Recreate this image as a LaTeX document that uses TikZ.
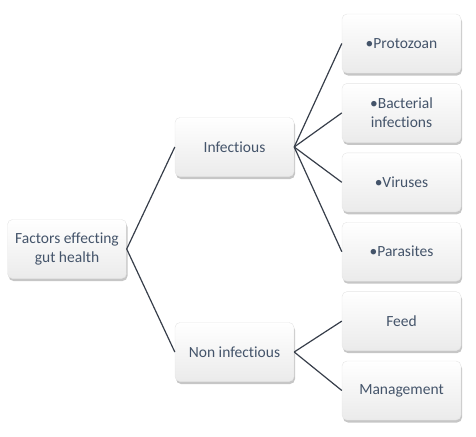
\documentclass[tikz,border=0pt]{standalone}
\usepackage{fontspec}
\setmainfont{Carlito}[Ligatures=NoCommon]
\usepackage{tikz}
\usetikzlibrary{positioning,shadows}
\definecolor{boxtext}{RGB}{68,84,106}
\definecolor{linkgray}{RGB}{55,62,74}
\tikzset{
  gutbox/.style={rounded corners=5pt, draw=gray!20, line width=0.4pt,
    top color=white, bottom color=gray!16, align=center,
    minimum width=119pt, minimum height=59pt, inner sep=2pt,
    text=boxtext, font=\fontsize{15.5}{18.5}\selectfont,
    drop shadow={opacity=0.45, shadow xshift=1pt, shadow yshift=-2.5pt}},
  gutline/.style={draw=linkgray, line width=1.2pt}
}

\begin{document}
\begin{tikzpicture}[x=1pt, y=-1pt]
  \useasboundingbox (0,0) rectangle (476,436);
  \node[gutbox] (proto) at (401.5,43.5) {\textbullet Protozoan};
  \node[gutbox, below=10pt of proto] (bact) {\textbullet Bacterial\\infections};
  \node[gutbox, below=10pt of bact] (vir) {\textbullet Viruses};
  \node[gutbox, below=10pt of vir] (para) {\textbullet Parasites};
  \node[gutbox, below=10pt of para] (feed) {Feed};
  \node[gutbox, below=10pt of feed] (mgmt) {Management};
  \node[gutbox] (inf) at (234.5,147) {Infectious};
  \node[gutbox] (noninf) at (234.5,352) {Non infectious};
  \node[gutbox] (root) at (67,249) {Factors effecting\\gut health};
  \draw[gutline] (root.east) -- (inf.west);
  \draw[gutline] (root.east) -- (noninf.west);
  \draw[gutline] (inf.east) -- (proto.west);
  \draw[gutline] (inf.east) -- (bact.west);
  \draw[gutline] (inf.east) -- (vir.west);
  \draw[gutline] (inf.east) -- (para.west);
  \draw[gutline] (noninf.east) -- (feed.west);
  \draw[gutline] (noninf.east) -- (mgmt.west);
\end{tikzpicture}
\end{document}
